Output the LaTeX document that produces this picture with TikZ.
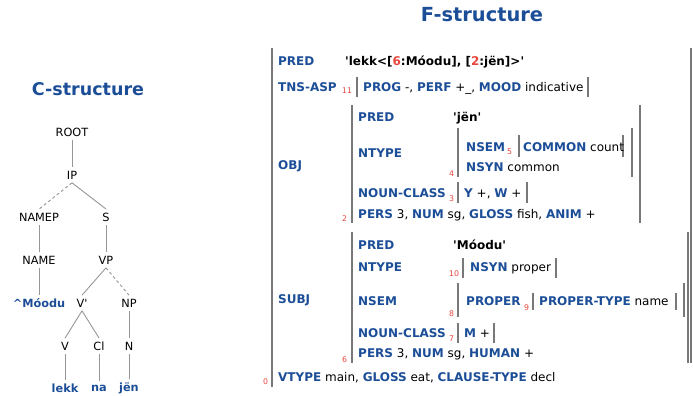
\documentclass[tikz,border=0pt]{standalone}
\usepackage{fontspec}
\setmainfont{DejaVu Sans}
\definecolor{fblue}{RGB}{28,78,152}
\definecolor{fred}{RGB}{232,70,60}
\definecolor{barc}{RGB}{120,120,120}
\definecolor{edgec}{RGB}{150,150,150}
\newcommand\fl[1]{\textcolor{fblue}{\bfseries #1}}
\newcommand\rn[1]{\textcolor{fred}{\fontsize{7.8}{8}\selectfont #1}}
\newcommand\sq{\textquotesingle}
\begin{document}
\begin{tikzpicture}[x=1pt,y=-1pt,
  tn/.style={font=\fontsize{11.3}{13}\selectfont, inner sep=3.5pt},
  tw/.style={tn, text=fblue, font=\fontsize{11.3}{13}\selectfont\bfseries},
  te/.style={draw=edgec, line width=0.9pt},
  ted/.style={te, dashed, dash pattern=on 3pt off 2.5pt},
  fs/.style={anchor=base west, inner sep=0pt, font=\fontsize{12}{14}\selectfont},
  rnum/.style={anchor=base west, inner sep=0pt},
  bar/.style={draw=barc, line width=1.6pt},
  ttl/.style={text=fblue, font=\fontsize{17.5}{20}\selectfont\bfseries}]
\useasboundingbox (0,0) rectangle (693,396);
% titles
\node[ttl] (ctitle) at (88,89) {C-structure};
\node[ttl, font=\fontsize{19.4}{22}\selectfont\bfseries] (ftitle) at (482,15) {F-structure};
% tree
\node[tn] (root) at (72,132) {ROOT};
\node[tn] (ip) at (72,175) {IP};
\node[tn] (namep) at (39,217) {NAMEP};
\node[tn] (s) at (106,217) {S};
\node[tn] (name) at (39,260) {NAME};
\node[tn] (vp) at (106,260) {VP};
\node[tw] (moodu) at (39,303) {\^{}Móodu};
\node[tn] (vbar) at (82,303) {V\sq};
\node[tn] (np) at (129,303) {NP};
\node[tn] (v) at (65,346) {V};
\node[tn] (cl) at (99,346) {Cl};
\node[tn] (n) at (129,346) {N};
\node[tw] (lekk) at (65,388) {lekk};
\node[tw] (na) at (99,388) {na};
\node[tw] (jen) at (129,388) {jën};
\draw[te] (root) -- (ip);
\draw[ted] (ip.south) -- (namep.north);
\draw[te] (ip.south) -- (s.north);
\draw[te] (namep) -- (name);
\draw[te] (s) -- (vp);
\draw[te] (name) -- (moodu);
\draw[te] (vp.south) -- (vbar.north);
\draw[ted] (vp.south) -- (np.north);
\draw[te] (vbar.south) -- (v.north);
\draw[te] (vbar.south) -- (cl.north);
\draw[te] (np) -- (n);
\draw[te] (v) -- (lekk);
\draw[te] (cl) -- (na);
\draw[te] (n) -- (jen);
% F-structure bars
\draw[bar] (272,48) -- (272,387);
\draw[bar] (691,48) -- (691,363);
\draw[bar] (357,77) -- (357,97);
\draw[bar] (588,77) -- (588,97);
\draw[bar] (352,105) -- (352,223);
\draw[bar] (640,105) -- (640,223);
\draw[bar] (458,128) -- (458,177);
\draw[bar] (632,128) -- (632,177);
\draw[bar] (519,135) -- (519,157);
\draw[bar] (623,135) -- (623,157);
\draw[bar] (458,182) -- (458,203);
\draw[bar] (527,182) -- (527,203);
\draw[bar] (352,232) -- (352,363);
\draw[bar] (688,232) -- (688,363);
\draw[bar] (463,258) -- (463,278);
\draw[bar] (556,258) -- (556,278);
\draw[bar] (458,283) -- (458,317);
\draw[bar] (684,283) -- (684,317);
\draw[bar] (533,293) -- (533,310);
\draw[bar] (676,293) -- (676,310);
\draw[bar] (458,323) -- (458,343);
\draw[bar] (494,323) -- (494,343);
% F-structure text
\node[fs] (pred) at (278,66) {\fl{PRED}};
\node[fs] (predv) at (345,66) {\bfseries \sq lekk<[\textcolor{fred}{6}:Móodu], [\textcolor{fred}{2}:jën]>\sq};
\node[fs] (tns) at (278,91) {\fl{TNS-ASP}};
\node[rnum] (n11) at (342,93) {\rn{11}};
\node[fs] (tnsv) at (363,91) {\fl{PROG} -, \fl{PERF} +\_, \fl{MOOD} indicative};
\node[fs] (obj) at (278,169) {\fl{OBJ}};
\node[fs] (opred) at (358,121) {\fl{PRED}};
\node[fs] (opredv) at (453,121) {\bfseries \sq jën\sq};
\node[fs] (ontype) at (358,157) {\fl{NTYPE}};
\node[fs] (onsem) at (466,151) {\fl{NSEM}};
\node[rnum] (n5) at (507,154) {\rn{5}};
\node[fs] (ocommon) at (523,151) {\fl{COMMON} count};
\node[fs] (onsyn) at (466,171) {\fl{NSYN} common};
\node[rnum] (n4) at (449,176) {\rn{4}};
\node[fs] (oncl) at (358,197) {\fl{NOUN-CLASS}};
\node[rnum] (n3) at (449,201) {\rn{3}};
\node[fs] (onclv) at (464,197) {\fl{Y} +, \fl{W} +};
\node[rnum] (n2) at (342,221) {\rn{2}};
\node[fs] (opers) at (358,218) {\fl{PERS} 3, \fl{NUM} sg, \fl{GLOSS} fish, \fl{ANIM} +};
\node[fs] (subj) at (278,303) {\fl{SUBJ}};
\node[fs] (spred) at (358,249) {\fl{PRED}};
\node[fs] (spredv) at (453,249) {\bfseries \sq Móodu\sq};
\node[fs] (sntype) at (358,271) {\fl{NTYPE}};
\node[rnum] (n10) at (449,276) {\rn{10}};
\node[fs] (snsyn) at (470,271) {\fl{NSYN} proper};
\node[fs] (snsem) at (358,305) {\fl{NSEM}};
\node[rnum] (n8) at (449,316) {\rn{8}};
\node[fs] (sproper) at (466,305) {\fl{PROPER}};
\node[rnum] (n9) at (524,310) {\rn{9}};
\node[fs] (sptype) at (539,305) {\fl{PROPER-TYPE} name};
\node[fs] (sncl) at (358,337) {\fl{NOUN-CLASS}};
\node[rnum] (n7) at (449,341) {\rn{7}};
\node[fs] (snclv) at (464,337) {\fl{M} +};
\node[rnum] (n6) at (342,362) {\rn{6}};
\node[fs] (spers) at (358,357) {\fl{PERS} 3, \fl{NUM} sg, \fl{HUMAN} +};
\node[rnum] (n0) at (263,384) {\rn{0}};
\node[fs] (vtype) at (278,381) {\fl{VTYPE} main, \fl{GLOSS} eat, \fl{CLAUSE-TYPE} decl};
\end{tikzpicture}
\end{document}
